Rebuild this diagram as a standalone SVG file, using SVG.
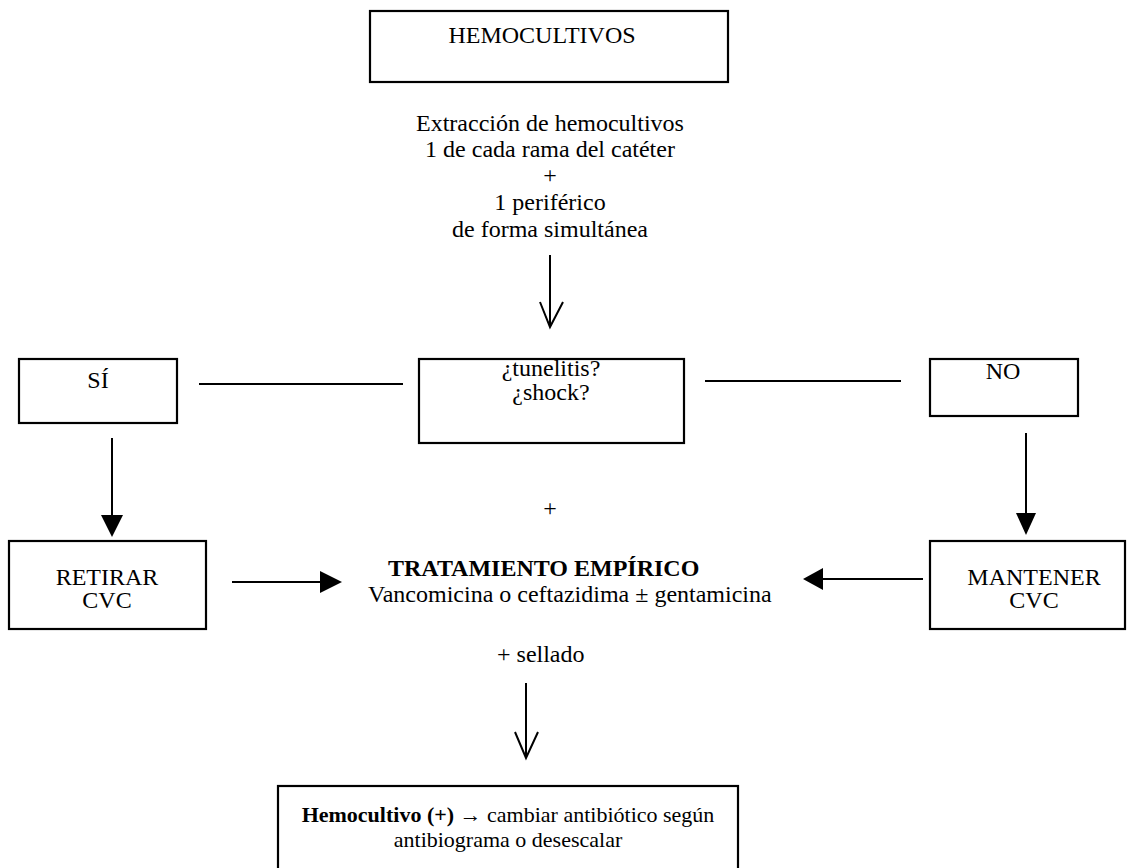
<svg xmlns="http://www.w3.org/2000/svg" width="1129" height="868" viewBox="0 0 1129 868">
<style>
.box{fill:#fff;stroke:#000;stroke-width:2.2}
.t{font-family:"Liberation Serif","Times New Roman",serif;font-size:24px;fill:#000}
.s{font-size:22px}
.c{text-anchor:middle}
.b{font-weight:bold}
.ln{stroke:#000;stroke-width:2;fill:none}
.head{fill:#000;stroke:none}
</style>
<rect width="1129" height="868" fill="#fff"/>
<g id="hemocultivos">
<rect class="box" x="370" y="11" width="358" height="71"/>
<text class="t c" x="542" y="43">HEMOCULTIVOS</text>
</g>
<g id="extraccion">
<text class="t c" x="550" y="131">Extracción de hemocultivos</text>
<text class="t c" x="550" y="157">1 de cada rama del catéter</text>
<text class="t c" x="550" y="183">+</text>
<text class="t c" x="550" y="210">1 periférico</text>
<text class="t c" x="550" y="237">de forma simultánea</text>
</g>
<g id="pregunta">
<rect class="box" x="419" y="359" width="265" height="84"/>
<text class="t c" x="551" y="376">¿tunelitis?</text>
<text class="t c" x="551" y="400">¿shock?</text>
</g>
<g id="si">
<rect class="box" x="19" y="359" width="158" height="64"/>
<text class="t c" x="98" y="388">SÍ</text>
</g>
<g id="no">
<rect class="box" x="930" y="359" width="148" height="57"/>
<text class="t c" x="1003" y="379">NO</text>
</g>
<g id="plus">
<text class="t c" x="550" y="516">+</text>
</g>
<g id="retirar">
<rect class="box" x="9" y="541" width="197" height="88"/>
<text class="t c" x="107" y="585">RETIRAR</text>
<text class="t c" x="107" y="608">CVC</text>
</g>
<g id="mantener">
<rect class="box" x="930" y="541" width="195" height="88"/>
<text class="t c" x="1034" y="585">MANTENER</text>
<text class="t c" x="1034" y="608">CVC</text>
</g>
<g id="tratamiento">
<text class="t b" x="388" y="576">TRATAMIENTO EMPÍRICO</text>
<text class="t" x="368" y="602">Vancomicina o ceftazidima ± gentamicina</text>
<text class="t" x="497" y="662">+ sellado</text>
</g>
<g id="resultado">
<rect class="box" x="278" y="786" width="460" height="100"/>
<text class="t s c" x="508" y="822"><tspan class="b">Hemocultivo (+)</tspan> → cambiar antibiótico según</text>
<text class="t s c" x="508" y="847">antibiograma o desescalar</text>
</g>
<g id="connectors">
<line class="ln" x1="550" y1="255" x2="550" y2="327"/>
<polyline class="ln" points="540,302 550,327 563,302"/>
<line class="ln" x1="199" y1="384" x2="403" y2="384"/>
<line class="ln" x1="705" y1="381" x2="901" y2="381"/>
<line class="ln" x1="112" y1="438" x2="112" y2="516"/>
<polygon class="head" points="101,515 123,515 112,537"/>
<line class="ln" x1="1026" y1="433" x2="1026" y2="514"/>
<polygon class="head" points="1016,513 1036,513 1026,535"/>
<line class="ln" x1="232" y1="582" x2="321" y2="582"/>
<polygon class="head" points="320,571 320,593 342,582"/>
<line class="ln" x1="822" y1="579" x2="923" y2="579"/>
<polygon class="head" points="823,568 823,590 803,579"/>
<line class="ln" x1="526" y1="683" x2="526" y2="758"/>
<polyline class="ln" points="515,732 526,758 538,732"/>
</g>
</svg>
